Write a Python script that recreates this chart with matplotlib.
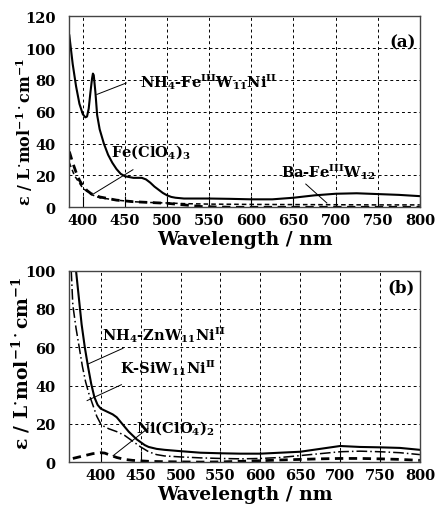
import matplotlib
matplotlib.use("Agg")
import matplotlib.pyplot as plt
import numpy as np

plt.rcParams['font.family'] = ['DejaVu Serif']
plt.rcParams['font.weight'] = 'bold'
plt.rcParams['mathtext.fontset'] = 'dejavuserif'
plt.rcParams['mathtext.default'] = 'bf'

# ---------------- Panel (a) data ----------------
wl_nh4fe = [384, 388, 392, 396, 400, 403, 405, 407, 409, 411, 412, 413, 415, 417, 420,
            425, 430, 435, 440, 445, 450, 455, 460, 465, 470, 475, 480, 485, 490, 495,
            500, 505, 510, 520, 530, 550, 575, 600, 625, 650, 675, 700, 725, 750, 775, 800]
eps_nh4fe = [108, 90, 76, 65, 58.5, 56.5, 57, 62, 72, 81, 84, 83, 72, 58, 49,
             40, 33, 28, 24, 21, 19.5, 19, 18.5, 18.5, 18.5, 17.5, 15.5, 13, 11, 9,
             7.5, 6.5, 6, 5.5, 5.5, 5.5, 5.3, 5, 5, 6, 7.5, 8.5, 8.8, 8.3, 7.8, 7]

wl_feclo4 = [384, 388, 392, 396, 400, 405, 410, 420, 430, 440, 460, 480, 500, 520, 540, 560, 580, 600, 700, 800]
eps_feclo4 = [35, 28, 22, 17, 13.5, 10.5, 8.5, 6.5, 5.5, 4.5, 3.5, 3, 2.5, 1.5, 0.5, 0.2, 0, 0, 0, 0]

wl_bafe = [384, 390, 400, 410, 420, 440, 460, 480, 500, 520, 550, 600, 650, 700, 750, 800]
eps_bafe = [28, 20, 12, 8, 6, 4.5, 3.5, 3, 2.7, 2.3, 2, 1.8, 1.7, 1.6, 1.5, 1.5]

# ---------------- Panel (b) data ----------------
wl_nh4zn = [369, 372, 376, 380, 384, 388, 392, 396, 400, 405, 410, 415, 420, 425, 430, 435,
            440, 445, 450, 455, 460, 470, 480, 500, 525, 550, 575, 600, 625, 650, 675, 700,
            725, 750, 775, 800]
eps_nh4zn = [100, 88, 72, 60, 50, 41, 34, 30, 28, 27, 26, 25, 23.5, 21, 18.5, 16,
             14, 12, 10.5, 9, 8, 7, 6.5, 5.8, 5, 4.7, 4.5, 4.5, 5, 5.5, 7, 8.5,
             8, 7.8, 7.5, 6.5]

wl_ksi = [363, 365, 369, 373, 377, 381, 385, 390, 395, 400, 405, 410, 420, 430, 440, 450,
          460, 470, 480, 500, 525, 550, 575, 600, 625, 650, 675, 700, 725, 750, 775, 800]
eps_ksi = [100, 82, 70, 60, 50, 42, 36, 30, 24, 20, 18.5, 17.5, 16, 14, 11, 8,
           5.5, 4, 3.3, 2.8, 2.3, 2, 1.8, 2, 2.5, 3.5, 4.5, 5.5, 5.8, 5.5, 5, 4]

wl_niclo4 = [365, 370, 380, 390, 400, 405, 410, 420, 430, 440, 460, 480, 500, 525, 550,
             575, 600, 625, 650, 675, 700, 725, 750, 775, 800]
eps_niclo4 = [2, 2.5, 3.5, 4.5, 5, 4.8, 4, 2.5, 1.5, 1, 0.5, 0.3, 0.2, 0.1, 0.2,
              0.5, 0.8, 1.2, 1.5, 1.8, 2, 2, 1.8, 1.5, 1]

xticks = [400, 450, 500, 550, 600, 650, 700, 750, 800]
yticks_a = [0, 20, 40, 60, 80, 100, 120]
yticks_b = [0, 20, 40, 60, 80, 100]

fig = plt.figure(figsize=(4.36, 5.10), dpi=100)
ax1 = fig.add_axes([0.159, 0.5916, 0.804, 0.3745])
ax2 = fig.add_axes([0.159, 0.0916, 0.804, 0.3757])

ylab = r'ε / L$^{\cdot}$mol$^{-1\cdot}$cm$^{-1}$'
ANN = 10.5


def style(ax, xlim, ylim, yticks, ylsize):
    ax.set_xlim(*xlim)
    ax.set_ylim(*ylim)
    ax.set_xticks(xticks)
    ax.set_yticks(yticks)
    ax.grid(True, color='black', linestyle=(0, (3, 3)), linewidth=0.7)
    ax.tick_params(axis='x', direction='in', length=8, width=0.8, labelsize=10.5, pad=4)
    ax.tick_params(axis='y', length=0, labelsize=10.5, pad=10)
    for lab in ax.get_xticklabels() + ax.get_yticklabels():
        lab.set_fontweight('bold')
    for s in ax.spines.values():
        s.set_color('#444444')
        s.set_linewidth(1.0)
    ax.set_xlabel('Wavelength / nm', fontsize=13.5, fontweight='bold', labelpad=2)
    ax.set_ylabel(ylab, fontsize=ylsize, fontweight='bold')


# Panel (a)
ax1.plot(wl_nh4fe, eps_nh4fe, color='black', lw=1.5, ls='-')
ax1.plot(wl_feclo4, eps_feclo4, color='black', lw=2.0, ls=(0, (3, 2)))
ax1.plot(wl_bafe, eps_bafe, color='black', lw=1.1, ls=(0, (3, 2)))
style(ax1, (384, 800), (0, 120), yticks_a, 11.5)
ax1.yaxis.set_label_coords(-0.098, 0.40)

ax1.text(468, 79, r'NH$_4$-Fe$^{\rm III}$W$_{11}$Ni$^{\rm II}$', fontsize=ANN,
         fontweight='bold', ha='left', va='center')
ax1.plot([416.7, 451.6], [70.9, 78.1], color='black', lw=0.7)
ax1.text(433.5, 35, r'Fe(ClO$_4$)$_3$', fontsize=ANN, fontweight='bold', ha='left', va='center')
ax1.plot([412.6, 459.5], [8.4, 23.6], color='black', lw=0.7)
ax1.text(635, 23, r'Ba-Fe$^{\rm III}$W$_{12}$', fontsize=ANN, fontweight='bold', ha='left', va='center')
ax1.plot([664.6, 689.6], [14.6, 2.7], color='black', lw=0.7)
ax1.text(0.99, 0.865, '(a)', transform=ax1.transAxes, fontsize=12, fontweight='bold',
         ha='right', va='center')

# Panel (b)
ax2.plot(wl_nh4zn, eps_nh4zn, color='black', lw=1.5, ls='-')
ax2.plot(wl_ksi, eps_ksi, color='black', lw=1.1, ls=(0, (7, 2, 1, 2)))
ax2.plot(wl_niclo4, eps_niclo4, color='black', lw=2.0, ls=(0, (3, 2)))
style(ax2, (360.6, 800), (0, 100), yticks_b, 13.5)
ax2.yaxis.set_label_coords(-0.105, 0.52)

ax2.text(401, 67, r'NH$_4$-ZnW$_{11}$Ni$^{\rm II}$', fontsize=ANN, fontweight='bold',
         ha='left', va='center')
ax2.plot([384.1, 427.9], [51.3, 59.5], color='black', lw=0.7)
ax2.text(424, 49.6, r'K-SiW$_{11}$Ni$^{\rm II}$', fontsize=ANN, fontweight='bold',
         ha='left', va='center')
ax2.plot([382.9, 425.9], [32.2, 40.5], color='black', lw=0.7)
ax2.text(444.6, 18.3, r'Ni(ClO$_4$)$_2$', fontsize=ANN, fontweight='bold', ha='left', va='center')
ax2.plot([415.4, 459.1], [3.4, 17.7], color='black', lw=0.7)
ax2.text(0.986, 0.916, '(b)', transform=ax2.transAxes, fontsize=12, fontweight='bold',
         ha='right', va='center')

fig.savefig('out.png', dpi=100)
